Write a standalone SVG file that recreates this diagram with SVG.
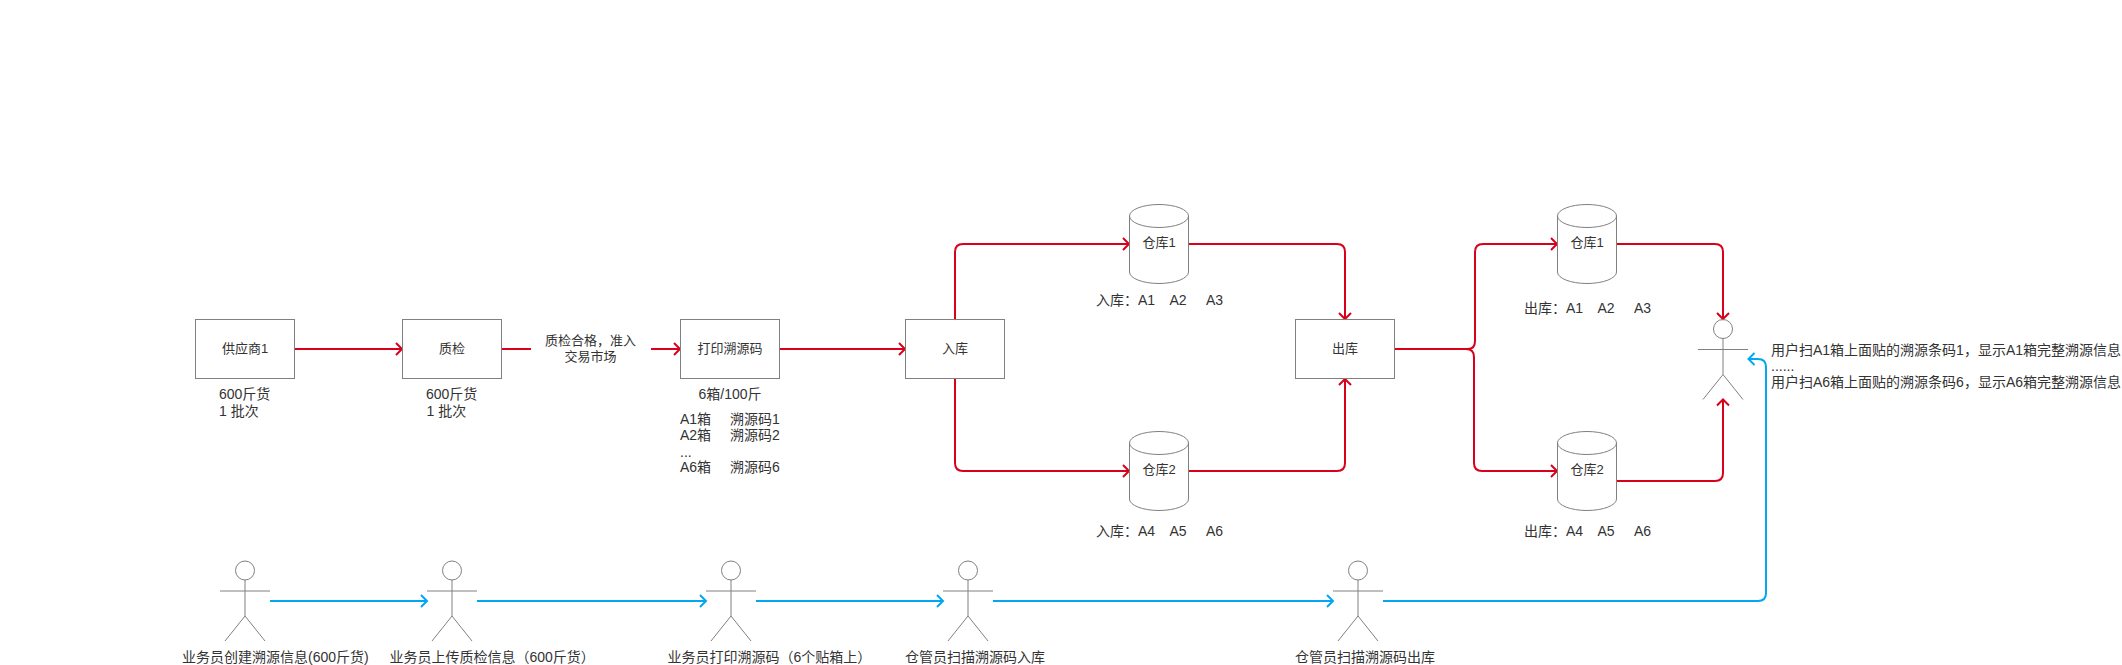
<svg xmlns="http://www.w3.org/2000/svg" width="2122" height="665" viewBox="0 0 2122 665">
<style>
text{font-family:"Liberation Sans","Noto Sans CJK SC",sans-serif;font-size:14px;fill:#333}
.c{text-anchor:middle;font-size:13px}
.m{text-anchor:middle}
.s{fill:#fff;stroke:#808080;stroke-width:1}
.a{fill:none;stroke:#808080;stroke-width:1}
.r{fill:none;stroke:#d9001b;stroke-width:2;marker-end:url(#ar)}
.l{fill:none;stroke:#d9001b;stroke-width:2}
.b{fill:none;stroke:#02a7f0;stroke-width:2;marker-end:url(#ab)}
</style>
<defs>
<marker id="ar" markerUnits="userSpaceOnUse" markerWidth="12" markerHeight="16" refX="9" refY="8" orient="auto"><path d="M3 2L9 8L3 14" fill="none" stroke="#d9001b" stroke-width="2"/></marker>
<marker id="ab" markerUnits="userSpaceOnUse" markerWidth="12" markerHeight="16" refX="9" refY="8" orient="auto"><path d="M3 2L9 8L3 14" fill="none" stroke="#02a7f0" stroke-width="2"/></marker>
<g id="cyl"><path class="s" d="M0 11.5A29.5 11.5 0 0 1 59 11.5V67.5A29.5 11.5 0 0 1 0 67.5Z"/><path class="a" d="M0 11.5A29.5 11.5 0 0 0 59 11.5"/></g>
<g id="act"><ellipse class="a" cx="0" cy="9.5" rx="9.5" ry="9.5"/><path class="a" d="M0 19V55M-25 30H25M-20 80L0 55L20 80"/></g>
</defs>
<g id="connectors">
<path class="r" d="M294.500 349H402"/>
<path class="l" d="M501.500 349H531"/>
<path class="r" d="M651 349H680"/>
<path class="r" d="M779.500 349H905"/>
<path class="r" d="M955 319.500V252Q955 244 963 244H1129"/>
<path class="r" d="M955 378.500V463Q955 471 963 471H1129"/>
<path class="r" d="M1188.500 244H1337Q1345 244 1345 252V319"/>
<path class="r" d="M1188.500 471H1337Q1345 471 1345 463V379"/>
<path class="r" d="M1394.500 349H1468Q1475 349 1475 341V252Q1475 244 1483 244H1557"/>
<path class="r" d="M1394.500 349H1466Q1474 349 1474 357V463Q1474 471 1482 471H1557"/>
<path class="r" d="M1616.500 244H1715Q1723 244 1723 252V319"/>
<path class="r" d="M1616.500 481H1715Q1723 481 1723 473V399.500"/>
<path class="b" d="M270 601H427"/>
<path class="b" d="M477 601H706"/>
<path class="b" d="M756 601H943"/>
<path class="b" d="M993 601H1333"/>
<path class="b" d="M1383 601H1758Q1766 601 1766 593V367Q1766 359 1758 359H1748.500"/>
</g>
<g id="n-supplier"><rect class="s" x="195.500" y="319.500" width="99" height="59"/><text class="c" x="245" y="353">供应商1</text></g>
<text x="219" y="399">600斤货</text><text x="219" y="415.500">1 批次</text>
<g id="n-qc"><rect class="s" x="402.500" y="319.500" width="99" height="59"/><text class="c" x="452" y="353">质检</text></g>
<text x="426" y="399">600斤货</text><text x="426.500" y="415.500">1 批次</text>
<g id="n-qcpass"><text class="c" x="590.500" y="344.500">质检合格，准入</text><text class="c" x="590.500" y="361">交易市场</text></g>
<g id="n-print"><rect class="s" x="680.500" y="319.500" width="99" height="59"/><text class="c" x="730" y="353">打印溯源码</text></g>
<text class="m" x="730" y="399">6箱/100斤</text>
<text x="680" y="423.500">A1箱</text><text x="730" y="423.500">溯源码1</text>
<text x="680" y="439.500">A2箱</text><text x="730" y="439.500">溯源码2</text>
<text x="680" y="457">...</text>
<text x="680" y="471.500">A6箱</text><text x="730" y="471.500">溯源码6</text>
<g id="n-in"><rect class="s" x="905.500" y="319.500" width="99" height="59"/><text class="c" x="955" y="353">入库</text></g>
<g id="n-out"><rect class="s" x="1295.500" y="319.500" width="99" height="59"/><text class="c" x="1345" y="353">出库</text></g>
<g id="n-w1"><use href="#cyl" x="1129.500" y="204.500"/><text class="c" x="1159" y="247">仓库1</text></g>
<g id="n-w2"><use href="#cyl" x="1129.500" y="431.500"/><text class="c" x="1159" y="474">仓库2</text></g>
<g id="n-w3"><use href="#cyl" x="1557.500" y="204.500"/><text class="c" x="1587" y="247">仓库1</text></g>
<g id="n-w4"><use href="#cyl" x="1557.500" y="431.500"/><text class="c" x="1587" y="474">仓库2</text></g>
<text x="1096" y="305">入库：</text><text x="1138" y="305">A1</text><text x="1169.500" y="305">A2</text><text x="1206" y="305">A3</text>
<text x="1096" y="536">入库：</text><text x="1138" y="536">A4</text><text x="1169.500" y="536">A5</text><text x="1206" y="536">A6</text>
<text x="1524" y="313">出库：</text><text x="1566" y="313">A1</text><text x="1597.500" y="313">A2</text><text x="1634" y="313">A3</text>
<text x="1524" y="536">出库：</text><text x="1566" y="536">A4</text><text x="1597.500" y="536">A5</text><text x="1634" y="536">A6</text>
<g id="n-user"><use href="#act" x="1723" y="319.500"/></g>
<text x="1771" y="355">用户扫A1箱上面贴的溯源条码1，显示A1箱完整溯源信息</text>
<text x="1771" y="371">......</text>
<text x="1771" y="387">用户扫A6箱上面贴的溯源条码6，显示A6箱完整溯源信息</text>
<g id="n-p1"><use href="#act" x="245" y="561"/><text x="182" y="661.500">业务员创建溯源信息(600斤货)</text></g>
<g id="n-p2"><use href="#act" x="452" y="561"/><text x="389.500" y="661.500">业务员上传质检信息（600斤货）</text></g>
<g id="n-p3"><use href="#act" x="731" y="561"/><text x="667.500" y="661.500">业务员打印溯源码（6个贴箱上）</text></g>
<g id="n-p4"><use href="#act" x="968" y="561"/><text x="905" y="661.500">仓管员扫描溯源码入库</text></g>
<g id="n-p5"><use href="#act" x="1358" y="561"/><text x="1295" y="661.500">仓管员扫描溯源码出库</text></g>
</svg>
